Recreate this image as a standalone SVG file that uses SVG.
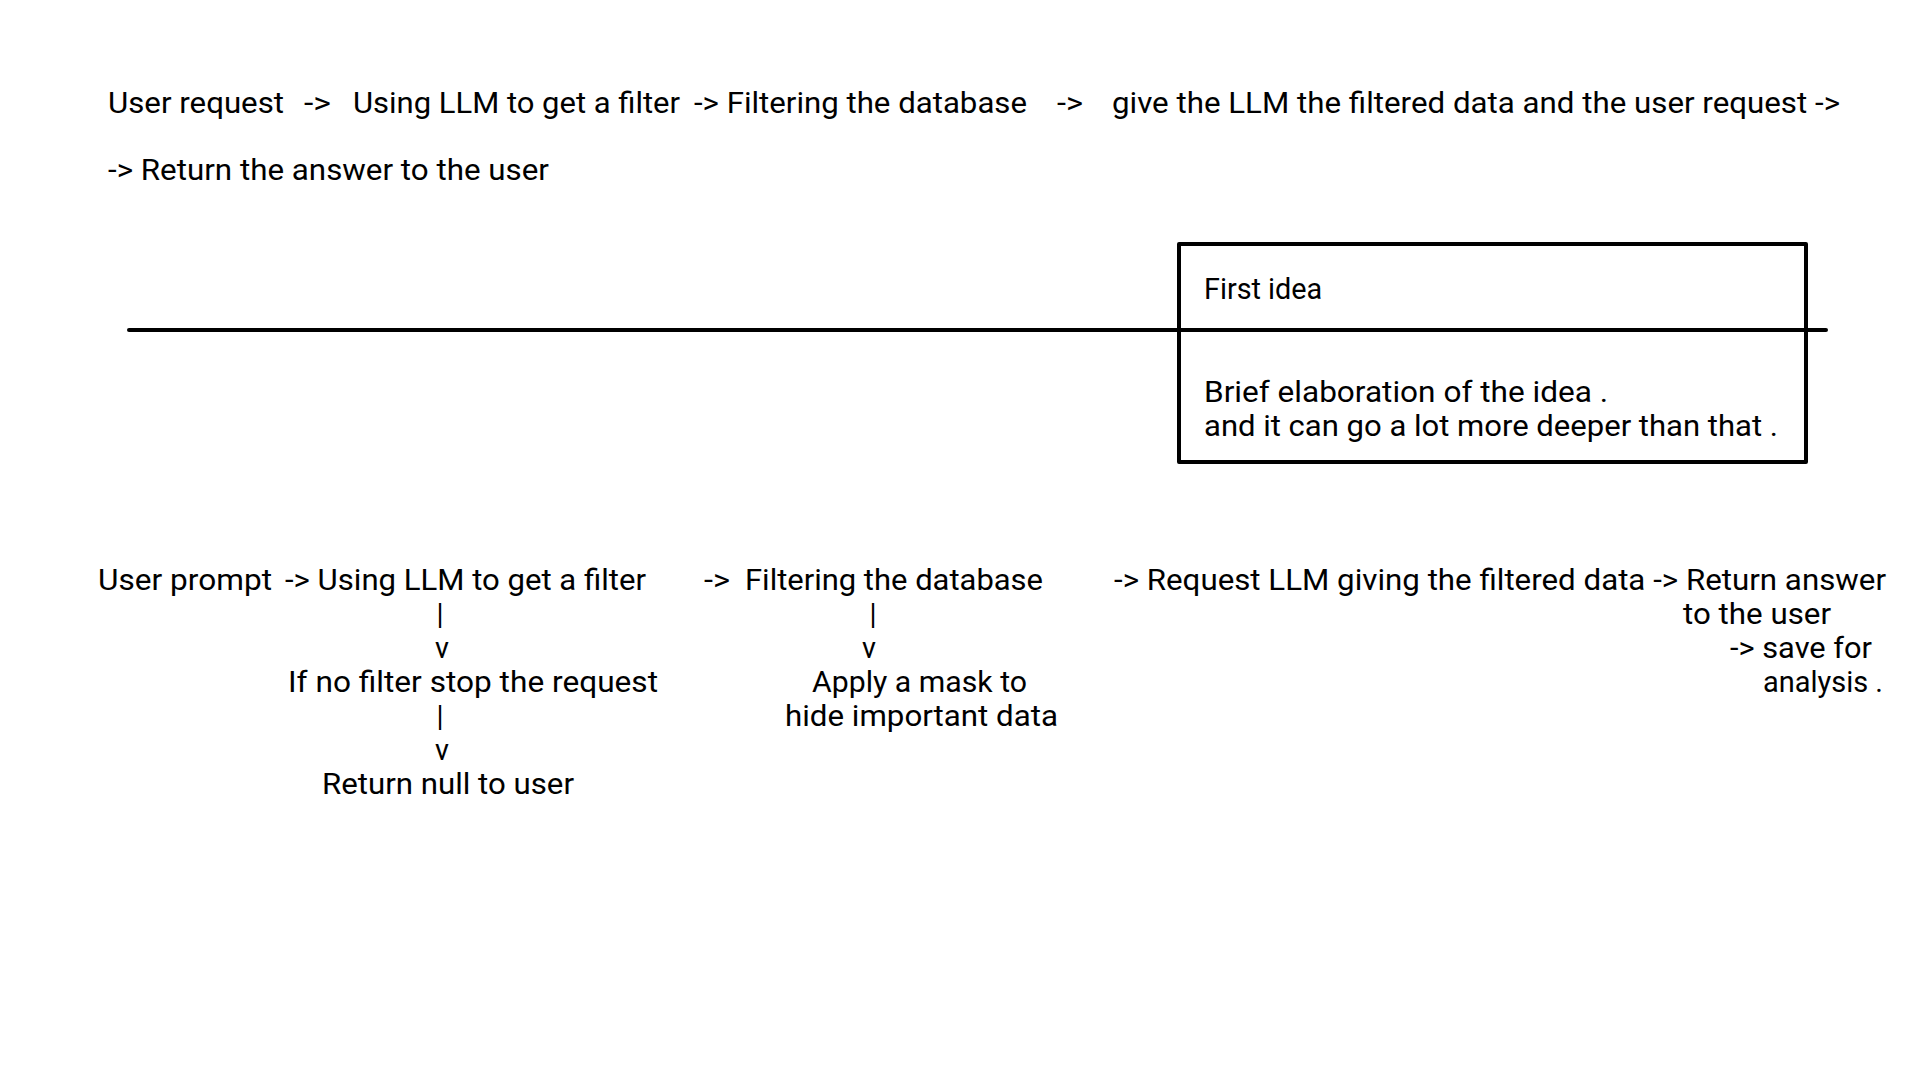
<svg xmlns="http://www.w3.org/2000/svg" width="1920" height="1080" viewBox="0 0 1920 1080">
<style>
text{font-family:Roboto,"Liberation Sans","DejaVu Sans",sans-serif;font-size:28.8px;fill:#000;}
.frame{fill:none;stroke:#000;stroke-width:4;stroke-linecap:round;stroke-linejoin:round;}
.rule{stroke:#000;stroke-width:4;stroke-linecap:round;fill:none;}
</style>
<rect x="0" y="0" width="1920" height="1080" fill="#fff"/>
<g id="connectors">
<line class="rule" x1="129" y1="330" x2="1826" y2="330"/>
</g>
<g id="top-flow">
<text y="113"><tspan x="108" textLength="176" lengthAdjust="spacingAndGlyphs">User request</tspan><tspan x="304" textLength="27" lengthAdjust="spacingAndGlyphs">-&gt;</tspan><tspan x="353" textLength="327" lengthAdjust="spacingAndGlyphs">Using LLM to get a filter</tspan><tspan x="694" textLength="333" lengthAdjust="spacingAndGlyphs">-&gt; Filtering the database</tspan><tspan x="1057" textLength="26" lengthAdjust="spacingAndGlyphs">-&gt;</tspan><tspan x="1112" textLength="728" lengthAdjust="spacingAndGlyphs">give the LLM the filtered data and the user request -&gt;</tspan></text>
<text x="108" y="180" textLength="441" lengthAdjust="spacingAndGlyphs">-&gt; Return the answer to the user</text>
</g>
<g id="first-idea">
<rect class="frame" x="1179" y="244" width="627" height="218"/>
<text x="1204" y="299">First idea</text>
<text x="1204" y="402" textLength="404" lengthAdjust="spacingAndGlyphs">Brief elaboration of the idea .</text>
<text x="1204" y="436" textLength="574" lengthAdjust="spacingAndGlyphs">and it can go a lot more deeper than that .</text>
</g>
<g id="filter-branch">
<text y="590"><tspan x="98" textLength="174" lengthAdjust="spacingAndGlyphs">User prompt</tspan><tspan x="285" textLength="361" lengthAdjust="spacingAndGlyphs">-&gt; Using LLM to get a filter</tspan></text>
<text x="440" y="624" text-anchor="middle">|</text>
<text x="442" y="658" text-anchor="middle">v</text>
<text x="288" y="692" textLength="370" lengthAdjust="spacingAndGlyphs">If no filter stop the request</text>
<text x="440" y="726" text-anchor="middle">|</text>
<text x="442" y="760" text-anchor="middle">v</text>
<text x="322" y="794" textLength="252" lengthAdjust="spacingAndGlyphs">Return null to user</text>
</g>
<g id="database-branch">
<text y="590"><tspan x="704" textLength="26" lengthAdjust="spacingAndGlyphs">-&gt;</tspan><tspan x="745" textLength="298" lengthAdjust="spacingAndGlyphs">Filtering the database</tspan></text>
<text x="873" y="624" text-anchor="middle">|</text>
<text x="869" y="658" text-anchor="middle">v</text>
<text x="812" y="692" textLength="215" lengthAdjust="spacingAndGlyphs">Apply a mask to</text>
<text x="785" y="726" textLength="273" lengthAdjust="spacingAndGlyphs">hide important data</text>
</g>
<g id="answer-branch">
<text x="1114" y="590" textLength="772" lengthAdjust="spacingAndGlyphs">-&gt; Request LLM giving the filtered data -&gt; Return answer</text>
<text x="1683" y="624" textLength="148" lengthAdjust="spacingAndGlyphs">to the user</text>
<text x="1730" y="658" textLength="142" lengthAdjust="spacingAndGlyphs">-&gt; save for</text>
<text x="1763" y="692" textLength="120" lengthAdjust="spacingAndGlyphs">analysis .</text>
</g>
</svg>
